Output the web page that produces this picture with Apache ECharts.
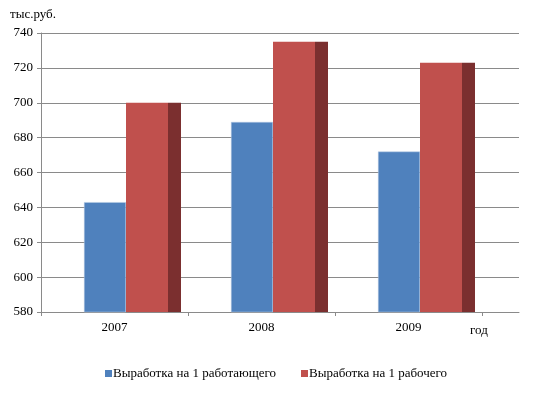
<!DOCTYPE html>
<html><head><meta charset="utf-8">
<script src="https://cdn.jsdelivr.net/npm/echarts@6/dist/echarts.min.js"></script>
<style>html,body{margin:0;padding:0;background:#fff}#c{width:543px;height:396px}</style>
</head><body><div id="c"></div>
<script>
const categories = ['2007', '2008', '2009'];
const workersAll = [643, 689, 672];   // Выработка на 1 работающего
const workersProd = [700, 735, 723];  // Выработка на 1 рабочего
const yTicks = [580, 600, 620, 640, 660, 680, 700, 720, 740];
const seriesNames = ['Выработка на 1 работающего', 'Выработка на 1 рабочего'];

const font = '"Liberation Serif", "DejaVu Serif", serif';
const chart = echarts.init(document.getElementById('c'));
const yMin = yTicks[0], yMax = yTicks[yTicks.length - 1];
chart.setOption({
  animation: false,
  textStyle: { fontFamily: font },
  grid: [
    { left: 41, top: 33, width: 478, bottom: 84, outerBoundsMode: 'none', containLabel: false },
    { left: 41, top: 33, width: 441, bottom: 84, outerBoundsMode: 'none', containLabel: false }
  ],
  xAxis: [
    { type: 'value', gridIndex: 0, min: 0, max: 1,
      axisLine: { show: true, lineStyle: { color: '#8a8a8a', width: 1 } },
      axisTick: { show: false }, axisLabel: { show: false }, splitLine: { show: false } },
    { type: 'category', gridIndex: 1, data: categories,
      axisLine: { show: false },
      axisTick: { show: true, length: 4, lineStyle: { color: '#8a8a8a' } },
      axisLabel: { color: '#000', fontFamily: font, fontSize: 13, margin: 9 },
      name: 'год', nameLocation: 'end', nameGap: -12,
      nameTextStyle: { color: '#000', fontFamily: font, fontSize: 13, align: 'left', verticalAlign: 'top', padding: [12, 0, 0, 0] } }
  ],
  yAxis: [
    { type: 'value', gridIndex: 0, min: yMin, max: yMax, interval: 20,
      axisLine: { show: true, lineStyle: { color: '#8a8a8a' } },
      axisTick: { show: true, length: 4, lineStyle: { color: '#8a8a8a' } },
      axisLabel: { color: '#000', fontFamily: font, fontSize: 13, margin: 8 },
      splitLine: { show: true, lineStyle: { color: '#8a8a8a', width: 1 } },
      name: 'тыс.руб.', nameLocation: 'end', nameGap: 12,
      nameTextStyle: { color: '#000', fontFamily: font, fontSize: 13, align: 'left', padding: [0, 0, 0, -31] } },
    { type: 'value', gridIndex: 1, min: yMin, max: yMax, interval: 20, show: false }
  ],
  legend: {
    data: seriesNames,
    left: 100, top: 362,
    icon: 'rect', itemWidth: 7, itemHeight: 7, itemGap: 25,
    itemStyle: { borderWidth: 0 },
    textStyle: { color: '#000', fontFamily: font, fontSize: 13, padding: [0, 0, 0, -4] }
  },
  series: [
    { type: 'bar', name: 'spacer', xAxisIndex: 1, yAxisIndex: 1, barWidth: 36, barGap: 0,
      data: categories.map(() => yMin), itemStyle: { color: 'rgba(0,0,0,0)' }, silent: true },
    { type: 'bar', name: seriesNames[0], xAxisIndex: 1, yAxisIndex: 1, barWidth: 42, barGap: 0,
      data: workersAll, itemStyle: { color: '#4F81BD', borderColor: '#b9cde5', borderWidth: 0.5 } },
    { type: 'bar', name: seriesNames[1], xAxisIndex: 1, yAxisIndex: 1, barWidth: 42, barGap: 0,
      data: workersProd, itemStyle: { color: '#C0504D' } },
    { type: 'bar', name: 'side', xAxisIndex: 1, yAxisIndex: 1, barWidth: 13, barGap: 0,
      data: workersProd, itemStyle: { color: '#7B2F2F' } }
  ]
});
</script></body></html>
